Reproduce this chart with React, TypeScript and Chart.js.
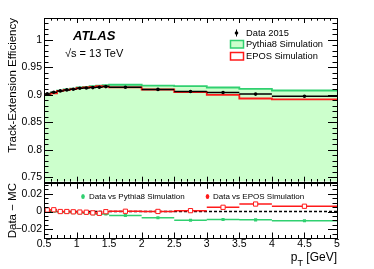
import React, { useEffect, useRef } from "react";
import { Chart, registerables } from "chart.js";

Chart.register(...registerables);

const FONT = '"Liberation Sans", Arial, Helvetica, sans-serif';

// ---- data ----
const binEdges = [0.5, 0.6, 0.7, 0.8, 0.9, 1.0, 1.1, 1.2, 1.3, 1.4, 1.5, 2.0, 2.5, 3.0, 3.5, 4.0, 5.0];
const dataEff = [0.9018, 0.9048, 0.9073, 0.9091, 0.9104, 0.9122, 0.9127, 0.9133, 0.914, 0.9151, 0.914, 0.91, 0.9063, 0.9045, 0.9015, 0.8975];
const pythiaEff = [0.9008, 0.9043, 0.9078, 0.9101, 0.9116, 0.9137, 0.9147, 0.9158, 0.917, 0.9179, 0.9185, 0.917, 0.916, 0.9135, 0.911, 0.908];
const eposEff = [0.9, 0.9028, 0.9073, 0.9091, 0.9107, 0.9128, 0.9135, 0.9148, 0.916, 0.9149, 0.9137, 0.9098, 0.9053, 0.9, 0.8935, 0.8918];
const diffPythia = [0.001, 0.0005, -0.0005, -0.001, -0.0012, -0.0015, -0.002, -0.0025, -0.003, -0.0028, -0.0045, -0.007, -0.0099, -0.009, -0.0094, -0.0104];
const diffEpos = [0.0018, 0.002, 0.0, 0.0, -0.0003, -0.0006, -0.0008, -0.0015, -0.002, -0.0002, 0.0003, 0.0001, 0.001, 0.0048, 0.0085, 0.006];
const xTickValues = [0.5, 1, 1.5, 2, 2.5, 3, 3.5, 4, 4.5, 5];
const xTickLabels = ["0.5", "1", "1.5", "2", "2.5", "3", "3.5", "4", "4.5", "5"];
const yTickValues = [0.75, 0.8, 0.85, 0.9, 0.95, 1];
const yTickLabels = ["0.75", "0.8", "0.85", "0.9", "0.95", "1"];
const ratioTickValues = [-0.02, 0, 0.02];
const ratioTickLabels = ["\u22120.02", "0", "0.02"];

const GREEN_LINE = "#30d070";
const GREEN_FILL = "#ccffcc";
const RED = "#ff1a1a";

// ---- helpers ----
const histPoints = (vals: number[]) =>
  binEdges.map((e, i) => ({ x: e, y: vals[Math.min(i, vals.length - 1)] }));
const barPoints = (vals: number[]) =>
  vals.flatMap((v, i) => [
    { x: binEdges[i], y: v },
    { x: binEdges[i + 1], y: v },
    { x: binEdges[i + 1], y: null as any },
  ]);
const centerPoints = (vals: number[]) =>
  vals.map((v, i) => ({ x: (binEdges[i] + binEdges[i + 1]) / 2, y: v }));

function labelFor(values: number[], labels: string[], v: number) {
  for (let i = 0; i < values.length; i++) if (Math.abs(values[i] - v) < 1e-9) return labels[i];
  return "";
}

type TickSpec = {
  yMinor: number[];
  yMajorEvery: (v: number) => boolean;
  yMajorLen: number;
  yMinorLen: number;
  xMajorLen: number;
  xMinorLen: number;
};

function drawFrameTicks(chart: any, spec: TickSpec) {
  const { ctx, chartArea: a, scales } = chart;
  const xs = scales.x;
  const ys = scales.y;
  ctx.save();
  ctx.strokeStyle = "#000";
  ctx.lineWidth = 1;
  ctx.beginPath();
  for (let i = 5; i <= 50; i++) {
    const v = i / 10;
    const px = Math.round(xs.getPixelForValue(v)) + 0.5;
    const L = i % 5 === 0 ? spec.xMajorLen : spec.xMinorLen;
    ctx.moveTo(px, a.top);
    ctx.lineTo(px, a.top + L);
    ctx.moveTo(px, a.bottom);
    ctx.lineTo(px, a.bottom - L);
  }
  for (const v of spec.yMinor) {
    const py = Math.round(ys.getPixelForValue(v)) + 0.5;
    const L = spec.yMajorEvery(v) ? spec.yMajorLen : spec.yMinorLen;
    ctx.moveTo(a.left, py);
    ctx.lineTo(a.left + L, py);
    ctx.moveTo(a.right, py);
    ctx.lineTo(a.right - L, py);
  }
  ctx.stroke();
  ctx.strokeRect(Math.round(a.left) + 0.5, Math.round(a.top) + 0.5, Math.round(a.right - a.left), Math.round(a.bottom - a.top));
  ctx.restore();
}

const topMinor: number[] = [];
for (let i = 75; i <= 104; i++) topMinor.push(i / 100);
const ratioMinor: number[] = [];
for (let i = -6; i <= 6; i++) ratioMinor.push(i * 0.005);

const topPlugin = {
  id: "topDecor",
  afterDraw(chart: any) {
    drawFrameTicks(chart, {
      yMinor: topMinor,
      yMajorEvery: (v) => Math.round(v * 100) % 5 === 0,
      yMajorLen: 9,
      yMinorLen: 4.5,
      xMajorLen: 5,
      xMinorLen: 2.7,
    });
    const ctx = chart.ctx;
    ctx.save();
    ctx.fillStyle = "#000";
    // y title
    ctx.save();
    ctx.translate(16, 18);
    ctx.rotate(-Math.PI / 2);
    ctx.font = `11.5px ${FONT}`;
    ctx.textAlign = "right";
    ctx.textBaseline = "alphabetic";
    ctx.fillText("Track-Extension Efficiency", 0, 0);
    ctx.restore();
    // ATLAS label
    ctx.font = `italic bold 13px ${FONT}`;
    ctx.textAlign = "left";
    ctx.textBaseline = "alphabetic";
    ctx.fillText("ATLAS", 73, 40);
    ctx.font = `11px ${FONT}`;
    ctx.fillText("\u221As = 13 TeV", 65, 57);
    // legend
    ctx.font = `9.3px ${FONT}`;
    ctx.textBaseline = "middle";
    ctx.fillText("Data 2015", 246, 33);
    ctx.fillText("Pythia8 Simulation", 246, 44.5);
    ctx.fillText("EPOS Simulation", 246, 56);
    ctx.beginPath();
    ctx.arc(236.5, 33, 1.8, 0, Math.PI * 2);
    ctx.fill();
    ctx.strokeStyle = "#000";
    ctx.lineWidth = 1;
    ctx.beginPath();
    ctx.moveTo(236.5, 29.5);
    ctx.lineTo(236.5, 36.5);
    ctx.stroke();
    ctx.fillStyle = GREEN_FILL;
    ctx.fillRect(230.5, 40.5, 13, 7.5);
    ctx.strokeStyle = GREEN_LINE;
    ctx.lineWidth = 1.5;
    ctx.strokeRect(230.5, 40.5, 13, 7.5);
    ctx.strokeStyle = RED;
    ctx.strokeRect(230.5, 52.5, 13, 7.5);
    ctx.restore();
  },
};

const BOT_TOP = 175;

const bottomPlugin = {
  id: "bottomDecor",
  afterDraw(chart: any) {
    drawFrameTicks(chart, {
      yMinor: ratioMinor,
      yMajorEvery: (v) => Math.abs(Math.round(v * 1000)) % 20 === 0,
      yMajorLen: 9,
      yMinorLen: 4.5,
      xMajorLen: 5.5,
      xMinorLen: 3,
    });
    const ctx = chart.ctx;
    const a = chart.chartArea;
    ctx.save();
    ctx.fillStyle = "#000";
    // y title
    ctx.save();
    ctx.translate(16, (a.top + a.bottom) / 2);
    ctx.rotate(-Math.PI / 2);
    ctx.font = `11.5px ${FONT}`;
    ctx.textAlign = "center";
    ctx.textBaseline = "alphabetic";
    ctx.fillText("Data \u2212 MC", 0, 0);
    ctx.restore();
    // x title p_T [GeV]
    const baseY = 261 - BOT_TOP;
    ctx.textBaseline = "alphabetic";
    ctx.textAlign = "left";
    ctx.font = `12px ${FONT}`;
    const wG = ctx.measureText(" [GeV]").width;
    const wp = ctx.measureText("p").width;
    ctx.font = `9px ${FONT}`;
    const wT = ctx.measureText("T").width;
    const right = a.right;
    const xG = right - wG;
    const xT = xG - wT;
    const xp = xT - wp;
    ctx.font = `12px ${FONT}`;
    ctx.fillText("p", xp, baseY);
    ctx.fillText(" [GeV]", xG, baseY);
    ctx.font = `9px ${FONT}`;
    ctx.fillText("T", xT, baseY + 5);
    // legend
    const ly = 196.5 - BOT_TOP;
    ctx.font = `8px ${FONT}`;
    ctx.textBaseline = "middle";
    ctx.fillText("Data vs Pythia8 Simulation", 89, ly);
    ctx.fillText("Data vs EPOS Simulation", 213, ly);
    ctx.fillStyle = GREEN_LINE;
    ctx.beginPath();
    ctx.ellipse(83, ly, 1.8, 2.5, 0, 0, Math.PI * 2);
    ctx.fill();
    ctx.fillStyle = RED;
    ctx.beginPath();
    ctx.ellipse(207.5, ly, 1.8, 2.5, 0, 0, Math.PI * 2);
    ctx.fill();
    ctx.restore();
  },
};

export default function App() {
  const topRef = useRef<HTMLCanvasElement | null>(null);
  const botRef = useRef<HTMLCanvasElement | null>(null);

  useEffect(() => {
    const tickFont = { family: FONT, size: 10.5 };
    const top = new Chart(topRef.current as HTMLCanvasElement, {
      type: "scatter",
      data: {
        datasets: [
          {
            data: centerPoints(dataEff),
            showLine: false,
            pointRadius: 1.8,
            pointBackgroundColor: "#000",
            pointBorderWidth: 0,
          } as any,
          {
            data: barPoints(dataEff),
            showLine: true,
            spanGaps: false,
            borderColor: "#000",
            borderWidth: 1.5,
            pointRadius: 0,
          },
          {
            data: histPoints(eposEff),
            showLine: true,
            stepped: true,
            borderColor: RED,
            borderWidth: 1.8,
            pointRadius: 0,
            fill: false,
          },
          {
            data: histPoints(pythiaEff),
            showLine: true,
            stepped: true,
            borderColor: GREEN_LINE,
            backgroundColor: GREEN_FILL,
            borderWidth: 1.8,
            pointRadius: 0,
            fill: "start",
          },
        ],
      },
      options: {
        animation: false,
        responsive: false,
        devicePixelRatio: 1,
        events: [],
        layout: { padding: { top: 18, right: 37, bottom: 8, left: 0 } },
        plugins: { legend: { display: false }, tooltip: { enabled: false } },
        scales: {
          x: { type: "linear", min: 0.5, max: 5, display: false },
          y: {
            type: "linear",
            min: 0.742,
            max: 1.04,
            afterFit: (s: any) => {
              s.width = 44;
            },
            afterBuildTicks: (s: any) => {
              s.ticks = yTickValues.map((v) => ({ value: v }));
            },
            grid: { display: false, drawTicks: false },
            border: { display: false },
            ticks: {
              padding: 2,
              font: tickFont,
              color: "#000",
              callback: (v: any) => labelFor(yTickValues, yTickLabels, Number(v)),
            },
          },
        },
      } as any,
      plugins: [topPlugin],
    });

    const bot = new Chart(botRef.current as HTMLCanvasElement, {
      type: "scatter",
      data: {
        datasets: [
          {
            data: centerPoints(diffEpos),
            showLine: false,
            pointStyle: "rect",
            pointRadius: 3,
            pointBackgroundColor: "#fff",
            pointBorderColor: RED,
            pointBorderWidth: 1,
          } as any,
          {
            data: barPoints(diffEpos),
            showLine: true,
            spanGaps: false,
            borderColor: RED,
            borderWidth: 1.5,
            pointRadius: 0,
          },
          {
            data: centerPoints(diffPythia),
            showLine: false,
            pointStyle: "rect",
            pointRadius: 2.2,
            pointBackgroundColor: GREEN_LINE,
            pointBorderWidth: 0,
          } as any,
          {
            data: barPoints(diffPythia),
            showLine: true,
            spanGaps: false,
            borderColor: GREEN_LINE,
            borderWidth: 1.5,
            pointRadius: 0,
          },
          {
            data: [
              { x: 0.5, y: 0 },
              { x: 5, y: 0 },
            ],
            showLine: true,
            borderColor: "#000",
            borderWidth: 1.5,
            borderDash: [3, 2],
            pointRadius: 0,
          },
        ],
      },
      options: {
        animation: false,
        responsive: false,
        devicePixelRatio: 1,
        events: [],
        layout: { padding: { top: 182 - BOT_TOP, right: 37, bottom: 0, left: 0 } },
        plugins: { legend: { display: false }, tooltip: { enabled: false } },
        scales: {
          x: {
            type: "linear",
            min: 0.5,
            max: 5,
            afterFit: (s: any) => {
              s.height = 31;
            },
            afterBuildTicks: (s: any) => {
              s.ticks = xTickValues.map((v) => ({ value: v }));
            },
            grid: { display: false, drawTicks: false },
            border: { display: false },
            ticks: {
              padding: 0,
              maxRotation: 0,
              autoSkip: false,
              font: tickFont,
              color: "#000",
              callback: (v: any) => labelFor(xTickValues, xTickLabels, Number(v)),
            },
          },
          y: {
            type: "linear",
            min: -0.03,
            max: 0.032,
            afterFit: (s: any) => {
              s.width = 44;
            },
            afterBuildTicks: (s: any) => {
              s.ticks = ratioTickValues.map((v) => ({ value: v }));
            },
            grid: { display: false, drawTicks: false },
            border: { display: false },
            ticks: {
              padding: 2,
              font: tickFont,
              color: "#000",
              callback: (v: any) => labelFor(ratioTickValues, ratioTickLabels, Number(v)),
            },
          },
        },
      } as any,
      plugins: [bottomPlugin],
    });

    return () => {
      top.destroy();
      bot.destroy();
    };
  }, []);

  return (
    <div style={{ position: "absolute", left: 0, top: 0, width: 374, height: 269, background: "#fff" }}>
      <canvas ref={topRef} width={374} height={190} style={{ position: "absolute", left: 0, top: 0, width: 374, height: 190 }} />
      <canvas ref={botRef} width={374} height={269 - BOT_TOP} style={{ position: "absolute", left: 0, top: BOT_TOP, width: 374, height: 269 - BOT_TOP }} />
    </div>
  );
}
